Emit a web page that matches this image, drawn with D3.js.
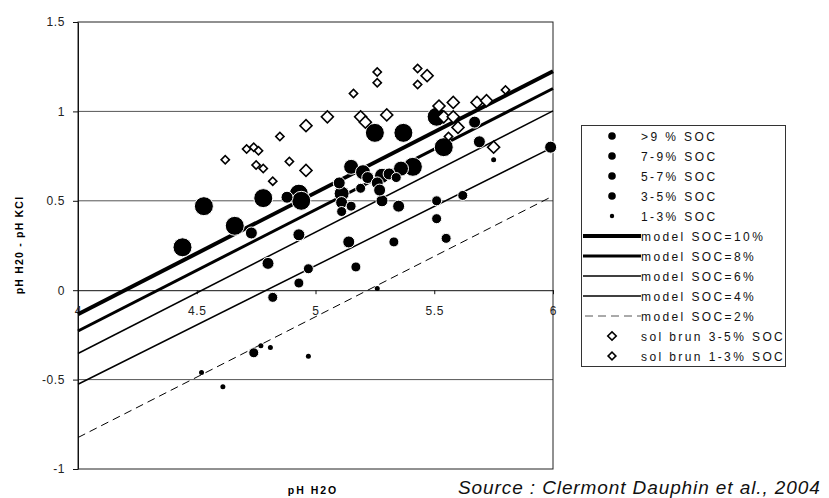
<!DOCTYPE html>
<html><head><meta charset="utf-8">
<script src="https://cdn.jsdelivr.net/npm/d3@7"></script>
<style>
body{margin:0;background:#fff;}
svg{display:block;font-family:"Liberation Sans",Arial,sans-serif;}
</style></head>
<body><svg id="c" width="829" height="498"></svg>
<script>
// ---- data ----
const xTicks = [4, 4.5, 5, 5.5, 6];
const yTicks = [-1, -0.5, 0, 0.5, 1, 1.5];
const gridValues = [-0.5, 0.5, 1];

const socGt9 = [[4.44,0.24],[4.53,0.47],[4.66,0.36],[4.78,0.515],[4.93,0.54],[4.94,0.50],[5.25,0.88],[5.37,0.88],[5.51,0.97],[5.54,0.80],[5.41,0.69]];
const soc7to9 = [[5.15,0.69],[5.20,0.66],[5.11,0.54],[5.36,0.68],[5.28,0.64]];
const soc5to7 = [[4.73,0.32],[4.80,0.15],[4.88,0.52],[4.93,0.31],[5.14,0.27],[5.28,0.50],[5.35,0.47],[5.10,0.60],[5.22,0.63],[5.26,0.60],[5.27,0.56],[5.31,0.65],[5.67,0.94],[5.69,0.83],[5.99,0.80],[5.11,0.49]];
const soc3to5 = [[4.82,-0.04],[4.97,0.12],[4.93,0.04],[4.74,-0.35],[5.17,0.13],[5.33,0.27],[5.51,0.50],[5.51,0.40],[5.62,0.53],[5.55,0.29],[5.11,0.44],[5.19,0.57],[5.34,0.63],[5.15,0.47]];
const soc1to3 = [[5.75,0.73],[5.26,0.01],[4.97,-0.37],[4.77,-0.31],[4.81,-0.32],[4.52,-0.46],[4.61,-0.54]];

const brun3to5 = [[4.96,0.92],[5.05,0.97],[5.19,0.97],[5.21,0.94],[5.30,0.98],[5.47,1.20],[5.52,1.03],[5.58,1.05],[5.54,0.97],[5.58,0.97],[5.60,0.91],[5.68,1.05],[5.72,1.06],[4.96,0.67],[5.75,0.80]];
const brun1to3 = [[4.85,0.86],[4.62,0.73],[4.71,0.79],[4.74,0.80],[4.76,0.78],[4.75,0.70],[4.78,0.68],[4.89,0.72],[4.82,0.61],[5.26,1.22],[5.26,1.16],[5.16,1.10],[5.43,1.24],[5.43,1.15],[5.80,1.12],[5.56,0.86]];

const modelNames = ["model SOC=10%","model SOC=8%","model SOC=6%","model SOC=4%","model SOC=2%"];
const modelAtPH4 = [-0.134,-0.228,-0.354,-0.526,-0.824];
const modelAtPH6 = [1.225,1.128,1.003,0.80,0.527];

const pointNames = [">9 % SOC","7-9% SOC","5-7% SOC","3-5% SOC","1-3% SOC"];
const brunNames = ["sol brun 3-5% SOC","sol brun 1-3% SOC"];

// ---- styles ----
const pointRadius = [9.5,7.5,6,5,2.5];
const legendRadius = [3.8,3.8,3.8,3.8,2.2];
const modelWidth = [4,3,1.5,1.5,1];
const modelDash = [null,null,null,null,"8,5"];
const brunSize = [72,34];

const svg = d3.select("#c");
const x = d3.scaleLinear().domain([4,6]).range([78,553]);
const y = d3.scaleLinear().domain([-1,1.5]).range([469,22]);

// gridlines
svg.append("g").selectAll("line").data(gridValues).join("line")
  .attr("x1",x(4)).attr("x2",x(6)).attr("y1",d=>y(d)).attr("y2",d=>y(d))
  .attr("stroke","#555").attr("stroke-width",1);

// frame
svg.append("rect").attr("x",x(4)).attr("y",y(1.5)).attr("width",x(6)-x(4)).attr("height",y(-1)-y(1.5))
  .attr("fill","none").attr("stroke","#222").attr("stroke-width",1);

// y axis
const yAx = svg.append("g").attr("transform",`translate(${x(4)},0)`)
  .call(d3.axisLeft(y).tickValues(yTicks).tickSize(5).tickSizeOuter(0).tickPadding(8).tickFormat(d=>String(d)));
yAx.select(".domain").attr("stroke","#111");
yAx.selectAll("line").attr("stroke","#111");
yAx.selectAll("text").attr("font-size",12).attr("fill","#222").style("letter-spacing","0.6px")
  .attr("font-family","'Liberation Sans',Arial,sans-serif");

// x axis at y=0
const xAx = svg.append("g").attr("transform",`translate(0,${y(0)})`)
  .call(d3.axisBottom(x).tickValues(xTicks).tickSize(4).tickSizeOuter(0).tickPadding(12).tickFormat(d=>String(d)));
xAx.select(".domain").attr("stroke","#111");
xAx.selectAll("line").attr("stroke","#111");
xAx.selectAll("text").attr("font-size",12).attr("fill","#222").style("letter-spacing","0.6px")
  .attr("font-family","'Liberation Sans',Arial,sans-serif");

// model lines
const models = modelNames.map((n,i)=>({n,a:modelAtPH4[i],b:modelAtPH6[i],w:modelWidth[i],dash:modelDash[i]}));
svg.append("g").selectAll("line").data(models).join("line")
  .attr("x1",x(4)).attr("x2",x(6)).attr("y1",d=>y(d.a)).attr("y2",d=>y(d.b))
  .attr("stroke","#000").attr("stroke-width",d=>d.w).attr("stroke-dasharray",d=>d.dash);

// points
const groups = [socGt9,soc7to9,soc5to7,soc3to5,soc1to3];
groups.forEach((arr,i)=>{
  svg.append("g").selectAll("circle").data(arr).join("circle")
    .attr("cx",d=>x(d[0])).attr("cy",d=>y(d[1])).attr("r",pointRadius[i])
    .attr("fill","#000").attr("stroke",i<4?"#fff":"none").attr("stroke-width",1);
});

// diamonds
[brun3to5,brun1to3].forEach((arr,i)=>{
  const sym = d3.symbol(d3.symbolSquare, brunSize[i])();
  svg.append("g").selectAll("path").data(arr).join("path")
    .attr("d",sym).attr("transform",d=>`translate(${x(d[0])},${y(d[1])}) rotate(45)`)
    .attr("fill","#fff").attr("stroke","#000").attr("stroke-width",1.6);
});

// axis titles
svg.append("text").attr("transform",`translate(23,245) rotate(-90)`).attr("text-anchor","middle")
  .attr("font-size",10.5).attr("font-weight","bold").style("letter-spacing","1.2px")
  .text("pH H20 - pH KCl");
svg.append("text").attr("x",313).attr("y",494).attr("text-anchor","middle")
  .attr("font-size",10.5).attr("font-weight","bold").style("letter-spacing","2px")
  .text("pH H2O");
svg.append("text").attr("x",458).attr("y",494).attr("font-size",19).attr("font-style","italic")
  .style("letter-spacing","0.9px").attr("fill","#111").text("Source : Clermont Dauphin et al., 2004");

// legend
const lg = svg.append("g");
lg.append("rect").attr("x",581.5).attr("y",125.5).attr("width",204).attr("height",241)
  .attr("fill","#fff").attr("stroke","#333").attr("stroke-width",1);
const rowY = i => 136 + i*20;
const legItems = [];
pointNames.forEach((n,i)=>legItems.push({type:"c",n,i}));
modelNames.forEach((n,i)=>legItems.push({type:"l",n,i}));
brunNames.forEach((n,i)=>legItems.push({type:"d",n,i}));
legItems.forEach((it,k)=>{
  const cy = rowY(k);
  if(it.type==="c"){
    lg.append("circle").attr("cx",612).attr("cy",cy).attr("r",legendRadius[it.i]).attr("fill","#000");
  } else if(it.type==="l"){
    lg.append("line").attr("x1",it.i===4?585:583).attr("x2",641).attr("y1",cy).attr("y2",cy)
      .attr("stroke",it.i===4?"#555":"#000").attr("stroke-width",modelWidth[it.i]).attr("stroke-dasharray",modelDash[it.i]);
  } else {
    lg.append("path").attr("d",d3.symbol(d3.symbolSquare,it.i===0?36:30)())
      .attr("transform",`translate(612,${cy}) rotate(45)`).attr("fill","#fff").attr("stroke","#000").attr("stroke-width",1.6);
  }
  lg.append("text").attr("x",641).attr("y",cy+4.5).attr("font-size",12)
    .style("letter-spacing","2.4px").attr("fill","#111").text(it.n);
});
</script>
</body></html>
